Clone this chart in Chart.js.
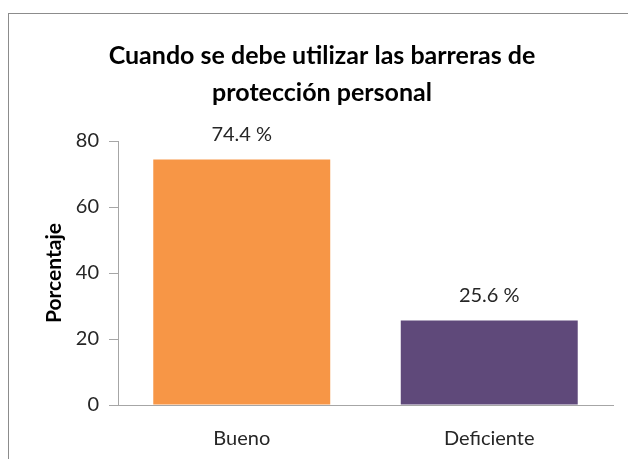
<!DOCTYPE html>
<html>
<head>
<meta charset="utf-8">
<script src="https://cdn.jsdelivr.net/npm/chart.js@4.4.0/dist/chart.umd.min.js"></script>
<style>
  html, body { margin: 0; padding: 0; background: #fff; overflow: hidden; }
  #wrap { position: relative; width: 628px; height: 459px; }
  #frame { position: absolute; left: 8px; top: 13px; width: 640px; height: 470px; border: 1px solid #8c8c8c; box-sizing: border-box; }
  canvas { position: absolute; left: 0; top: 0; }
</style>
</head>
<body>
<div id="wrap">
  <div id="frame"></div>
  <canvas id="barChart" width="628" height="459"></canvas>
</div>
<script>
const titleLines = ['Cuando se debe utilizar las barreras de', 'protección personal'];
const categories = ['Bueno', 'Deficiente'];
const percentages = [74.4, 25.6];
const barColors = ['#F79646', '#5F497A'];
const yTicks = [0, 20, 40, 60, 80];

const FONT = 'Lato, "Open Sans", sans-serif';

// titulo centrado sobre el marco (no sobre el canvas)
const frameTitle = {
    id: 'frameTitle',
    afterDraw(chart) {
        const ctx = chart.ctx;
        ctx.save();
        ctx.font = 'bold 25px ' + FONT;
        ctx.fillStyle = '#000';
        ctx.textAlign = 'center';
        ctx.textBaseline = 'middle';
        titleLines.forEach((line, i) => {
            ctx.fillText(line, 322, 56 + i * 37);
        });
        ctx.restore();
    }
};

// etiquetas de valor encima de cada barra
const valueLabels = {
    id: 'valueLabels',
    afterDatasetsDraw(chart) {
        const ctx = chart.ctx;
        const meta = chart.getDatasetMeta(0);
        ctx.save();
        ctx.font = '20px ' + FONT;
        ctx.fillStyle = '#262626';
        ctx.textAlign = 'center';
        ctx.textBaseline = 'middle';
        meta.data.forEach((bar, i) => {
            ctx.fillText(percentages[i].toFixed(1) + ' %', bar.x, bar.y - 25);
        });
        ctx.restore();
    }
};

const ctx = document.getElementById('barChart').getContext('2d');
new Chart(ctx, {
    type: 'bar',
    data: {
        labels: categories,
        datasets: [{
            data: percentages,
            backgroundColor: barColors,
            borderWidth: 0,
            categoryPercentage: 0.715,
            barPercentage: 1
        }]
    },
    options: {
        responsive: false,
        animation: false,
        layout: { padding: { left: 0, right: 15, top: 141, bottom: 0 } },
        plugins: {
            legend: { display: false },
            tooltip: { enabled: false },
            title: { display: false }
        },
        scales: {
            x: {
                grid: { display: false, drawTicks: false },
                border: { color: '#a6a6a6', width: 1 },
                ticks: { color: '#262626', font: { family: FONT, size: 20 }, padding: 22 },
                afterFit(scale) { scale.height = 54; }
            },
            y: {
                min: 0,
                max: 80,
                afterBuildTicks(scale) { scale.ticks = yTicks.map(v => ({ value: v })); },
                grid: { drawOnChartArea: false, drawTicks: true, tickLength: 9, color: '#a6a6a6' },
                border: { color: '#a6a6a6', width: 1 },
                ticks: { color: '#262626', font: { family: FONT, size: 20 }, padding: 10 },
                title: {
                    display: true,
                    text: 'Porcentaje',
                    color: '#000',
                    font: { family: FONT, size: 21, weight: 'bold' },
                    padding: { top: 42, bottom: 0 }
                },
                afterFit(scale) { scale.width = 118; }
            }
        }
    },
    plugins: [valueLabels, frameTitle]
});
</script>
</body>
</html>
